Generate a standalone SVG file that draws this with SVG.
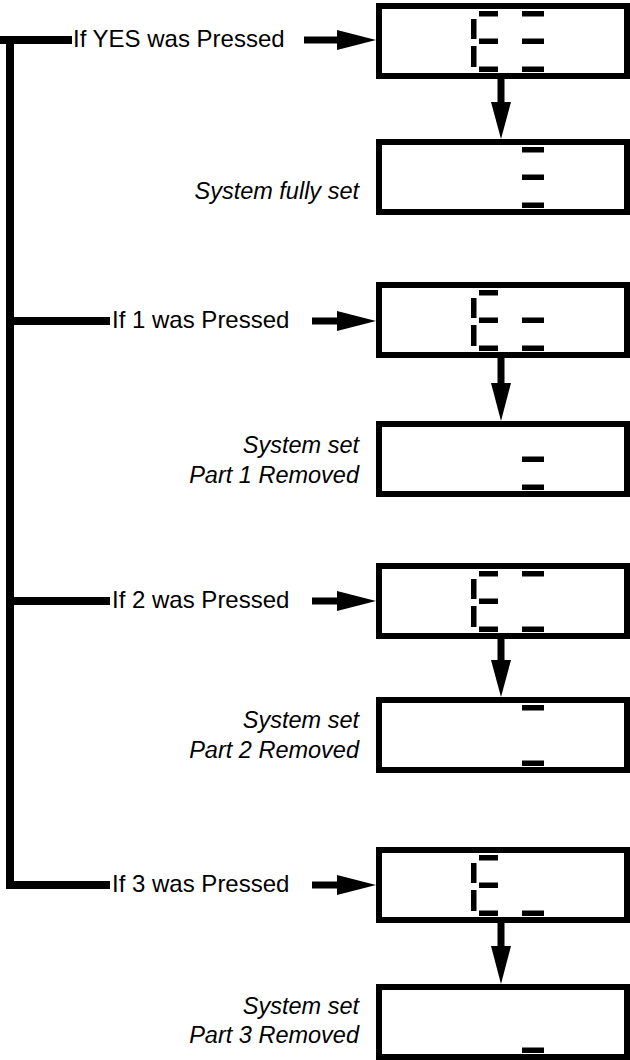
<svg xmlns="http://www.w3.org/2000/svg" width="630" height="1060" viewBox="0 0 630 1060">
<style>
.box{fill:#fff;stroke:#000;stroke-width:6}
.seg{fill:#000}
.line{stroke:#000;stroke-width:8;fill:none}
.shaft{stroke:#000;stroke-width:7;fill:none}
.head{fill:#000}
.lbl{font-family:"Liberation Sans",Arial,sans-serif;font-size:24px;fill:#000}
.res{font-family:"Liberation Sans",Arial,sans-serif;font-size:23.5px;font-style:italic;fill:#000;text-anchor:end}
</style>
<defs>
<rect id="sT" x="479" y="8" width="19" height="5.5"/>
<rect id="sM" x="479" y="35.5" width="19" height="5.5"/>
<rect id="sB" x="479" y="63.5" width="19" height="5.5"/>
<rect id="sUL" x="471" y="16" width="5.5" height="20"/>
<rect id="sLL" x="471" y="43" width="5.5" height="21"/>
<rect id="dT" x="522" y="8" width="22" height="5.5"/>
<rect id="dM" x="522" y="35.5" width="22" height="5.5"/>
<rect id="dB" x="522" y="63.5" width="22" height="5.5"/>
</defs>

<g id="connectors">
<path class="line" d="M0 40 H72 M10 36 V889 M10 321 H110 M10 601 H110 M6 885 H110"/>
<path class="shaft" d="M304 40 H340 M312 321 H340 M312 601 H340 M312 885 H340"/>
<polygon class="head" points="337,30 376,40 337,50"/>
<polygon class="head" points="337,311 376,321 337,331"/>
<polygon class="head" points="337,591 376,601 337,611"/>
<polygon class="head" points="337,875 376,885 337,895"/>
<path class="shaft" d="M501 79 V104 M501 357 V384 M501 639 V662 M501 922 V948"/>
<polygon class="head" points="491,102 501,139 511,102"/>
<polygon class="head" points="491,383 501,421 511,383"/>
<polygon class="head" points="491,660 501,697 511,660"/>
<polygon class="head" points="491,946 501,984 511,946"/>
</g>

<g id="labels">
<text class="lbl" x="73" y="47">If YES was Pressed</text>
<text class="lbl" x="112" y="328">If 1 was Pressed</text>
<text class="lbl" x="112" y="608">If 2 was Pressed</text>
<text class="lbl" x="112" y="892">If 3 was Pressed</text>
</g>

<g id="display-yes">
<rect class="box" x="379" y="6" width="248" height="70"/>
<g class="seg" transform="translate(0,3)"><use href="#sT"/><use href="#sUL"/><use href="#sM"/><use href="#sLL"/><use href="#sB"/><use href="#dT"/><use href="#dM"/><use href="#dB"/></g>
</g>
<g id="result-yes">
<rect class="box" x="379" y="142" width="248" height="70"/>
<g class="seg" transform="translate(0,139)"><use href="#dT"/><use href="#dM"/><use href="#dB"/></g>
<text class="res" x="359" y="199">System fully set</text>
</g>

<g id="display-1">
<rect class="box" x="379" y="285" width="248" height="70"/>
<g class="seg" transform="translate(0,282)"><use href="#sT"/><use href="#sUL"/><use href="#sM"/><use href="#sLL"/><use href="#sB"/><use href="#dM"/><use href="#dB"/></g>
</g>
<g id="result-1">
<rect class="box" x="379" y="424" width="248" height="70"/>
<g class="seg" transform="translate(0,421)"><use href="#dM"/><use href="#dB"/></g>
<text class="res" x="359" y="453">System set</text>
<text class="res" x="359" y="483">Part 1 Removed</text>
</g>

<g id="display-2">
<rect class="box" x="379" y="566" width="248" height="70"/>
<g class="seg" transform="translate(0,563)"><use href="#sT"/><use href="#sUL"/><use href="#sM"/><use href="#sLL"/><use href="#sB"/><use href="#dT"/><use href="#dB"/></g>
</g>
<g id="result-2">
<rect class="box" x="379" y="700" width="248" height="70"/>
<g class="seg" transform="translate(0,697)"><use href="#dT"/><use href="#dB"/></g>
<text class="res" x="359" y="728">System set</text>
<text class="res" x="359" y="758">Part 2 Removed</text>
</g>

<g id="display-3">
<rect class="box" x="379" y="850" width="248" height="70"/>
<g class="seg" transform="translate(0,847)"><use href="#sT"/><use href="#sUL"/><use href="#sM"/><use href="#sLL"/><use href="#sB"/><use href="#dB"/></g>
</g>
<g id="result-3">
<rect class="box" x="379" y="987" width="248" height="70"/>
<g class="seg" transform="translate(0,984)"><use href="#dB"/></g>
<text class="res" x="359" y="1014">System set</text>
<text class="res" x="359" y="1043">Part 3 Removed</text>
</g>
</svg>
